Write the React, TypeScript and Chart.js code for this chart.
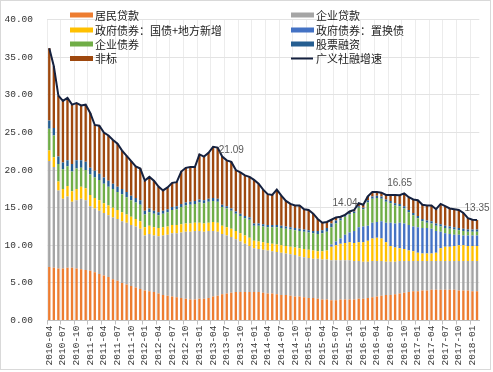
import React, { useEffect, useRef } from "react";
import { Chart, registerables } from "chart.js";
Chart.register(...registerables);

// Monthly categories 2010-04 .. 2018-02
const months: string[] = (() => {
  const out: string[] = [];
  let y = 2010, m = 4;
  for (let k = 0; k < 95; k++) {
    out.push(`${y}-${String(m).padStart(2, "0")}`);
    m++;
    if (m > 12) { m = 1; y++; }
  }
  return out;
})();

const seriesNames = [
  "居民贷款",
  "企业贷款",
  "政府债券：国债+地方新增",
  "政府债券：置换债",
  "企业债券",
  "股票融资",
  "非标",
  "广义社融增速",
];

const yTicks = [0, 5, 10, 15, 20, 25, 30, 35, 40];

const resident = [
  7.1, 7.0, 6.9, 6.9, 7.0, 7.0, 6.9, 6.8, 6.7,
  6.6, 6.4, 6.2, 6.0, 5.8, 5.5, 5.3, 5.0, 4.8, 4.6, 4.4, 4.2,
  4.0, 3.9, 3.8, 3.6, 3.4, 3.3, 3.2, 3.1, 3.0, 2.9, 2.8, 2.8,
  2.9, 2.9, 3.0, 3.2, 3.3, 3.5, 3.6, 3.7, 3.8, 3.8, 3.8, 3.8,
  3.8, 3.8, 3.7, 3.6, 3.6, 3.5, 3.4, 3.4, 3.3, 3.2, 3.2, 3.1,
  3.0, 3.0, 2.9, 2.8, 2.8, 2.7, 2.7, 2.8, 2.8, 2.8, 2.8, 2.9,
  2.9, 3.0, 3.1, 3.2, 3.3, 3.4, 3.4, 3.5, 3.6, 3.7, 3.8, 3.9,
  3.9, 4.0, 4.0, 4.1, 4.1, 4.1, 4.1, 4.1, 4.1, 4.0, 4.0, 4.0,
  3.9, 3.9,
];

const corpLoans = [
  14.1, 13.4, 10.4, 9.3, 9.5, 8.8, 9.1, 9.4, 9.3,
  8.6, 8.5, 8.4, 8.3, 8.2, 8.2, 8.2, 8.2, 8.2, 8.1, 8.1, 8.0,
  7.3, 7.6, 7.5, 7.6, 7.9, 8.1, 8.4, 8.5, 8.7, 8.9, 9.0, 9.1,
  9.0, 8.9, 8.9, 8.7, 8.5, 8.0, 7.7, 7.4, 7.0, 6.7, 6.4, 6.1,
  5.8, 5.7, 5.7, 5.7, 5.6, 5.6, 5.6, 5.5, 5.5, 5.5, 5.3, 5.3,
  5.3, 5.2, 5.3, 5.3, 5.3, 5.3, 5.3, 5.2, 5.2, 5.2, 5.1, 5.0,
  4.9, 4.8, 4.8, 4.7, 4.6, 4.4, 4.4, 4.3, 4.3, 4.2, 4.1, 4.0,
  4.0, 3.9, 3.9, 3.8, 3.8, 3.8, 3.8, 3.8, 3.8, 3.9, 3.9, 3.9,
  4.0, 4.0,
];

const govBonds = [
  1.4, 1.3, 1.2, 1.3, 1.4, 1.4, 1.5, 1.6, 1.6,
  1.5, 1.4, 1.4, 1.3, 1.3, 1.3, 1.2, 1.2, 1.1, 1.1, 1.0, 1.0,
  1.1, 1.1, 1.1, 1.1, 1.1, 1.1, 1.1, 1.1, 1.1, 1.1, 1.1, 1.1,
  1.1, 1.1, 1.1, 1.2, 1.2, 1.1, 1.1, 1.1, 1.1, 1.1, 1.1, 1.1,
  1.0, 1.0, 1.0, 1.0, 1.0, 1.0, 1.0, 1.0, 1.0, 1.0, 1.1, 1.1,
  1.1, 1.1, 1.0, 1.1, 1.2, 1.8, 2.0, 2.2, 2.3, 2.4, 2.4, 2.5,
  2.6, 2.8, 3.0, 3.1, 3.0, 2.6, 2.1, 1.9, 1.7, 1.6, 1.4, 1.3,
  1.1, 1.0, 1.0, 1.0, 1.1, 1.7, 1.9, 1.9, 2.0, 2.1, 2.1, 2.0,
  2.0, 2.0,
];

const swapBonds = [
  0, 0, 0, 0, 0, 0, 0, 0, 0,
  0, 0, 0, 0, 0, 0, 0, 0, 0, 0, 0, 0,
  0, 0, 0, 0, 0, 0, 0, 0, 0, 0, 0, 0,
  0, 0, 0, 0, 0, 0, 0, 0, 0, 0, 0, 0,
  0, 0, 0, 0, 0, 0, 0, 0, 0, 0, 0, 0,
  0, 0, 0, 0, 0, 0.3, 0.5, 0.7, 1.1, 1.3, 1.6, 2.0,
  2.1, 2.0, 2.1, 2.1, 2.3, 2.6, 3.1, 3.2, 3.4, 3.4, 3.4, 3.3,
  3.4, 3.4, 3.4, 3.3, 2.9, 2.2, 1.8, 1.7, 1.5, 1.4, 1.3, 1.4,
  1.4, 1.4,
];

const corpBonds = [
  2.9, 2.9, 2.3, 2.6, 2.6, 2.6, 2.7, 2.5, 2.4,
  2.7, 2.7, 2.7, 2.6, 2.5, 2.5, 2.4, 2.4, 2.3, 2.2, 2.2, 2.2,
  1.7, 1.8, 1.8, 1.7, 1.8, 1.9, 2.0, 2.1, 2.3, 2.4, 2.5, 2.5,
  2.7, 2.7, 2.8, 2.8, 2.8, 2.5, 2.5, 2.4, 2.3, 2.3, 2.3, 2.4,
  2.0, 2.1, 2.1, 2.1, 2.2, 2.3, 2.3, 2.3, 2.3, 2.3, 2.3, 2.3,
  2.3, 2.3, 2.3, 2.4, 2.5, 2.3, 2.4, 2.4, 2.4, 2.4, 2.4, 2.6,
  2.3, 3.1, 3.2, 3.2, 3.0, 2.8, 2.6, 2.4, 2.2, 2.0, 1.7, 1.5,
  1.2, 0.9, 0.7, 0.7, 0.7, 0.7, 0.7, 0.7, 0.7, 0.6, 0.6, 0.5,
  0.5, 0.5,
];

const equity = [
  1.1, 1.0, 1.0, 0.9, 0.8, 1.0, 1.1, 1.0, 1.1,
  0.9, 0.9, 0.8, 0.8, 0.8, 0.7, 0.7, 0.7, 0.7, 0.6, 0.6, 0.6,
  0.5, 0.5, 0.4, 0.4, 0.4, 0.4, 0.4, 0.4, 0.4, 0.4, 0.4, 0.4,
  0.4, 0.4, 0.4, 0.4, 0.4, 0.3, 0.3, 0.3, 0.3, 0.3, 0.3, 0.3,
  0.3, 0.3, 0.3, 0.3, 0.3, 0.3, 0.3, 0.3, 0.3, 0.3, 0.3, 0.3,
  0.3, 0.3, 0.4, 0.4, 0.5, 0.5, 0.4, 0.3, 0.2, 0.2, 0.2, 0.2,
  0.2, 0.3, 0.3, 0.3, 0.3, 0.3, 0.3, 0.3, 0.3, 0.3, 0.3, 0.3,
  0.3, 0.3, 0.3, 0.3, 0.3, 0.3, 0.3, 0.3, 0.3, 0.3, 0.3, 0.3,
  0.3, 0.3,
];

const nonStandard = [
  9.6, 8.2, 8.1, 8.2, 8.3, 7.9, 7.6, 7.3, 7.6,
  7.3, 6.1, 6.4, 6.0, 6.0, 5.8, 5.7, 5.1, 4.8, 4.6, 4.2, 4.2,
  4.0, 4.2, 4.0, 3.4, 2.7, 2.9, 3.2, 3.2, 4.3, 4.6, 4.6, 4.5,
  6.0, 5.8, 6.1, 6.8, 6.8, 6.4, 6.1, 6.2, 5.5, 5.5, 5.4, 5.4,
  5.8, 5.3, 4.6, 4.1, 4.0, 4.7, 4.0, 3.4, 3.1, 3.0, 3.1, 2.7,
  2.7, 2.3, 1.6, 1.0, 0.8, 0.5, 0.4, 0.2, 0.1, 0.2, 0.2, 0.4,
  0.4, 0.5, 0.6, 0.5, 0.5, 0.6, 0.8, 1.1, 1.15, 1.7, 1.7, 1.8,
  2.1, 1.9, 2.0, 2.1, 1.9, 2.7, 2.6, 2.4, 2.4, 2.4, 2.1, 1.5,
  1.3, 1.25,
];

const tsfGrowth = [
  36.2, 33.8, 29.9, 29.2, 29.6, 28.7, 28.9, 28.6, 28.7,
  27.6, 26.0, 25.9, 25.0, 24.6, 24.0, 23.5, 22.6, 21.9, 21.2, 20.5, 20.2,
  18.6, 19.1, 18.6, 17.8, 17.3, 17.7, 18.3, 18.4, 19.8, 20.3, 20.4, 20.4,
  22.1, 21.8, 22.3, 23.1, 23.0, 21.8, 21.3, 21.09, 20.0, 19.7, 19.3, 19.1,
  18.7, 18.2, 17.4, 16.8, 16.7, 17.4, 16.6, 15.9, 15.5, 15.3, 15.3, 14.8,
  14.7, 14.2, 13.5, 13.0, 13.1, 13.4, 13.7, 13.8, 14.04, 14.5, 14.7, 15.6,
  15.4, 16.5, 17.1, 17.1, 17.0, 16.7, 16.7, 16.7, 16.65, 16.9, 16.4, 16.1,
  16.0, 15.4, 15.3, 15.3, 14.8, 15.5, 15.2, 14.9, 14.8, 14.7, 14.3, 13.6,
  13.4, 13.35,
];

const labeledPoints = [40, 65, 77, 94];

const barColors = ["#ED7D31", "#A5A5A5", "#FFC000", "#4472C4", "#70AD47", "#255E91", "#9E480E"];
const lineColor = "#15213F";

export default function App() {
  const ref = useRef<HTMLCanvasElement | null>(null);

  useEffect(() => {
    document.body.style.margin = "0";
    const canvas = ref.current;
    if (!canvas) return;

    const barData = [resident, corpLoans, govBonds, swapBonds, corpBonds, equity, nonStandard];

    const legendPlugin = {
      id: "customLegend",
      afterDraw(chart: any) {
        const ctx = chart.ctx;
        ctx.save();
        const cols = [70, 291];
        const rows = [15, 30, 44, 58.5];
        ctx.font = '11px "Noto Sans CJK SC"';
        ctx.textBaseline = "middle";
        ctx.textAlign = "left";
        for (let k = 0; k < seriesNames.length; k++) {
          const cx = cols[k % 2];
          const cy = rows[Math.floor(k / 2)];
          if (k < 7) {
            ctx.fillStyle = barColors[k];
            ctx.fillRect(cx, cy - 2.5, 23, 5);
          } else {
            ctx.strokeStyle = lineColor;
            ctx.lineWidth = 2;
            ctx.beginPath();
            ctx.moveTo(cx, cy);
            ctx.lineTo(cx + 22, cy);
            ctx.stroke();
          }
          ctx.fillStyle = "#1a1a1a";
          ctx.fillText(seriesNames[k], cx + 25, cy + 0.5);
        }
        // frame
        ctx.strokeStyle = "#d9d9d9";
        ctx.lineWidth = 1;
        ctx.strokeRect(0.5, 0.5, 490, 369);
        ctx.restore();
      },
    };

    const labelPlugin = {
      id: "pointLabels",
      afterDatasetsDraw(chart: any) {
        const meta = chart.getDatasetMeta(0);
        const ctx = chart.ctx;
        ctx.save();
        ctx.font = '10px "Liberation Sans"';
        ctx.fillStyle = "#595959";
        ctx.textAlign = "center";
        ctx.textBaseline = "middle";
        for (const i of labeledPoints) {
          const p = meta.data[i];
          if (!p) continue;
          ctx.fillText(tsfGrowth[i].toFixed(2), p.x, p.y - 12);
        }
        ctx.restore();
      },
    };

    const chart = new Chart(canvas, {
      type: "bar",
      data: {
        labels: months,
        datasets: [
          {
            type: "line",
            label: seriesNames[7],
            data: tsfGrowth,
            borderColor: lineColor,
            backgroundColor: lineColor,
            borderWidth: 2,
            pointRadius: 0,
            fill: false,
            tension: 0,
            order: 0,
            stack: "line",
          } as any,
          ...barData.map((d, k) => ({
            type: "bar",
            label: seriesNames[k],
            data: d,
            backgroundColor: barColors[k],
            borderWidth: 0,
            barPercentage: 0.52,
            categoryPercentage: 1,
            stack: "s",
            order: 1,
          })),
        ] as any,
      },
      options: {
        responsive: false,
        devicePixelRatio: 1,
        animation: false,
        layout: { padding: { left: 0, right: 13.7, top: 13.5, bottom: 0 } },
        plugins: {
          legend: { display: false },
          tooltip: { enabled: false },
        },
        scales: {
          x: {
            stacked: true,
            offset: true,
            grid: {
              offset: true,
              color: (c: any) => (c.index % 3 === 0 ? "#ececec" : "rgba(0,0,0,0)"),
              tickColor: (c: any) => (c.index % 3 === 0 ? "#bfbfbf" : "rgba(0,0,0,0)"),
              tickLength: 4,
              drawTicks: true,
            },
            border: { color: "#bfbfbf" },
            ticks: {
              autoSkip: false,
              maxRotation: 90,
              minRotation: 90,
              padding: 1,
              color: "#333333",
              font: { family: "Liberation Mono", size: 9.5 },
              callback: (_v: any, i: number) => (i % 3 === 0 ? months[i] : ""),
            },
            afterFit: (s: any) => {
              s.height = 51.5;
            },
          },
          y: {
            stacked: true,
            min: 0,
            max: 40,
            afterBuildTicks: (s: any) => {
              s.ticks = yTicks.map((v) => ({ value: v }));
            },
            ticks: {
              padding: 14,
              color: "#333333",
              font: { family: "Liberation Mono", size: 9.5 },
              callback: (v: any) => Number(v).toFixed(2),
            },
            grid: { color: "#e3e3e3", drawTicks: false },
            border: { display: false },
            afterFit: (s: any) => {
              s.width = 47;
            },
          },
        },
      } as any,
      plugins: [legendPlugin, labelPlugin],
    });

    return () => chart.destroy();
  }, []);

  return (
    <div style={{ width: 493, height: 372, position: "relative", background: "#fff" }}>
      <canvas ref={ref} width={493} height={372} style={{ display: "block", width: 493, height: 372 }} />
    </div>
  );
}
